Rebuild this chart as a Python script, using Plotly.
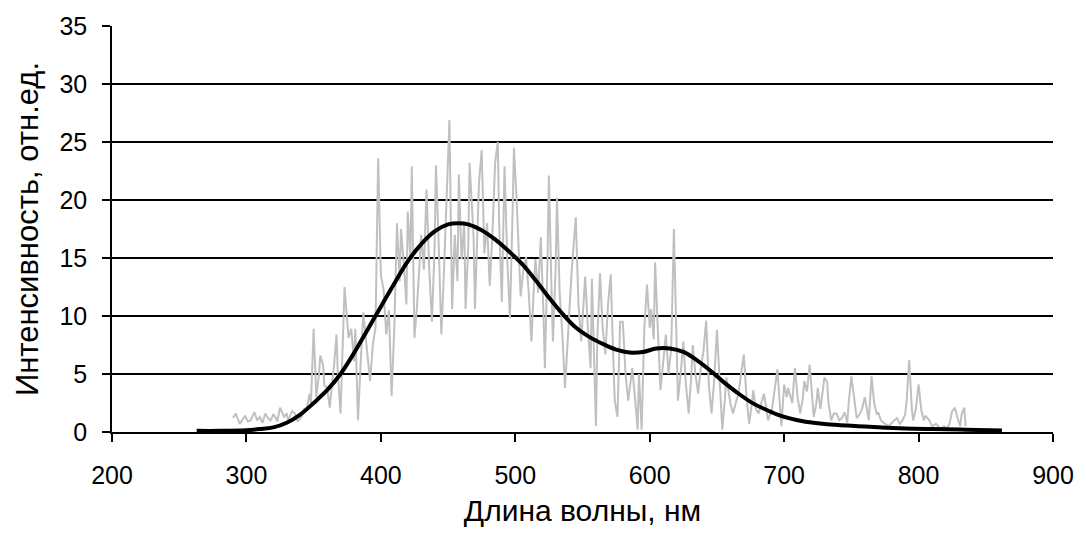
import plotly.graph_objects as go

# Noisy measured spectrum (grey)
raw_nm = [290,292,295,297,299,301,303,306,308,310,312,314,316,318,320,321,323,325,328,330,331,334,336,338,341,343,345,347,348,350,352,354,355,357,358,360,362,364,365,367,368,370,371,373,375,376,378,380,381,383,385,387,388,390,392,394,396,398,400,402,404,406,408,410,412,414,415,417,419,420,422,423,425,427,428,430,432,434,436,438,440,441,443,445,447,449,451,453,455,457,458,460,462,463,465,466,468,469,470,472,473,475,477,479,481,483,485,487,488,490,492,494,496,498,499,501,502,504,506,508,510,512,514,515,517,519,521,522,524,525,527,528,530,531,533,535,537,539,540,542,545,547,549,551,552,554,556,557,560,561,563,565,567,569,571,573,574,576,578,580,582,584,586,587,589,591,592,594,596,598,600,601,603,604,606,608,610,612,614,616,618,620,621,623,625,627,629,631,632,634,636,638,640,642,644,646,648,650,652,654,656,657,660,662,664,666,668,670,672,674,676,677,679,681,683,685,687,688,691,693,695,697,698,700,702,703,706,708,710,712,714,715,717,719,721,722,724,725,727,730,732,733,735,737,739,741,743,745,747,748,750,752,754,756,758,760,762,763,765,767,769,770,772,775,778,781,784,786,788,790,791,793,795,796,798,800,802,804,805,808,810,813,816,819,821,823,825,827,829,831,832,834,835]
raw_val = [1.2,1.6,0.7,1.1,1.4,0.9,1.0,1.7,1.0,1.3,0.8,1.6,1.2,1.0,1.5,1.4,0.9,2.1,1.3,1.6,1.0,1.8,1.6,0.9,1.3,2.0,2.1,3.3,2.5,8.9,3.0,5.0,6.6,5.8,4.0,3.8,2.1,4.5,5.5,8.4,5.0,1.6,6.0,12.5,9.5,8.1,8.9,6.1,8.9,1.0,6.0,10.3,9.0,6.5,4.4,7.5,9.0,23.6,13.5,12.3,8.4,10.5,3.1,9.0,18.0,13.0,17.5,14.6,11.0,19.0,15.0,22.9,8.1,11.0,12.9,17.0,14.0,20.9,14.0,9.5,16.0,23.0,16.3,8.4,14.0,20.0,26.9,10.6,17.0,13.0,22.2,14.9,18.0,10.6,16.0,23.2,18.0,16.8,10.6,18.0,21.5,24.3,15.4,18.0,12.6,17.0,23.2,25.0,18.0,11.2,22.9,15.0,9.8,19.0,24.5,20.0,17.4,11.7,14.0,15.1,12.0,7.8,13.0,14.9,12.0,16.8,10.0,5.5,15.0,22.1,12.0,7.8,14.0,20.2,12.0,8.4,3.8,8.0,9.5,14.0,18.5,11.0,7.8,11.0,13.4,9.0,5.5,13.2,0.5,8.0,13.7,9.0,6.7,11.0,13.6,6.0,2.7,1.3,9.5,9.5,5.0,2.7,4.7,5.5,3.0,0.2,5.0,0.2,9.0,12.7,9.0,10.6,8.0,14.6,9.0,3.6,6.0,8.4,5.0,7.2,17.5,7.0,2.7,5.0,7.8,4.0,1.6,5.0,7.5,5.0,3.3,5.5,7.0,9.6,4.0,1.6,4.5,8.8,4.0,0.2,3.0,4.7,2.5,1.6,2.5,3.3,5.0,6.7,3.0,0.7,2.5,3.6,2.0,1.6,2.5,3.3,1.8,1.0,2.0,3.5,5.4,2.0,0.5,4.1,3.0,3.8,2.5,5.5,3.0,1.6,3.0,4.4,3.5,5.8,3.0,1.3,2.5,3.8,2.0,4.7,4.3,2.5,1.0,1.6,1.6,1.0,1.2,1.7,0.8,2.5,4.8,3.0,1.2,1.5,2.0,3.0,1.5,1.0,4.8,2.5,1.5,1.7,1.0,0.7,0.5,0.9,1.2,0.7,1.0,1.5,2.5,6.2,2.0,1.0,2.0,4.1,1.9,1.0,1.4,1.0,0.5,0.7,0.3,0.5,0.3,0.7,1.8,2.1,1.2,0.5,1.5,2.1,0.5]

# Smoothed spectrum (black)
fit_nm = [263,280,300,310,320,330,340,350,360,370,380,390,400,410,420,430,440,450,458,465,475,485,495,505,515,525,535,545,555,565,575,585,595,605,615,625,635,645,655,665,675,685,695,705,715,725,740,755,770,790,810,835,862]
fit_val = [0.1,0.1,0.15,0.25,0.4,0.8,1.5,2.5,3.6,5.0,6.8,8.8,10.8,12.8,14.7,16.2,17.3,17.9,18.0,17.9,17.4,16.6,15.6,14.5,13.1,11.6,10.2,9.0,8.2,7.6,7.1,6.85,6.9,7.2,7.2,6.9,6.2,5.3,4.3,3.4,2.6,2.0,1.5,1.15,0.9,0.75,0.6,0.5,0.4,0.3,0.25,0.2,0.12]

x_ticks = [200, 300, 400, 500, 600, 700, 800, 900]
y_ticks = [0, 5, 10, 15, 20, 25, 30, 35]

fig = go.Figure()
fig.add_trace(go.Scatter(x=raw_nm, y=raw_val, mode="lines",
                         line=dict(color="#c0c0c0", width=2), showlegend=False))
fig.add_trace(go.Scatter(x=fit_nm, y=fit_val, mode="lines",
                         line=dict(color="black", width=4, shape="spline"), showlegend=False))

font = "Liberation Sans, Arial, sans-serif"
fig.update_layout(
    width=1086, height=536,
    margin=dict(l=112, r=33, t=19, b=104),
    paper_bgcolor="white", plot_bgcolor="white",
    font=dict(family=font, size=25, color="black"),
    xaxis=dict(range=[200, 900], tickvals=x_ticks, ticks="outside", ticklen=8,
               tickwidth=1.5, tickcolor="black", showline=True, linecolor="black",
               linewidth=1.5, showgrid=False, zeroline=False,
               ticklabelstandoff=12, tickfont=dict(size=25),
               title=dict(text="Длина волны, нм", standoff=12, font=dict(size=30))),
    yaxis=dict(range=[0, 35], tickvals=y_ticks, ticks="outside", ticklen=8,
               tickwidth=1.5, tickcolor="black", showline=True, linecolor="black",
               linewidth=1.5, showgrid=True, gridcolor="black", gridwidth=1.5,
               zeroline=False, ticklabelstandoff=10, tickfont=dict(size=25),
               title=dict(text="Интенсивность, отн.ед.", standoff=12, font=dict(size=31))),
)
fig.write_html("out.html")
